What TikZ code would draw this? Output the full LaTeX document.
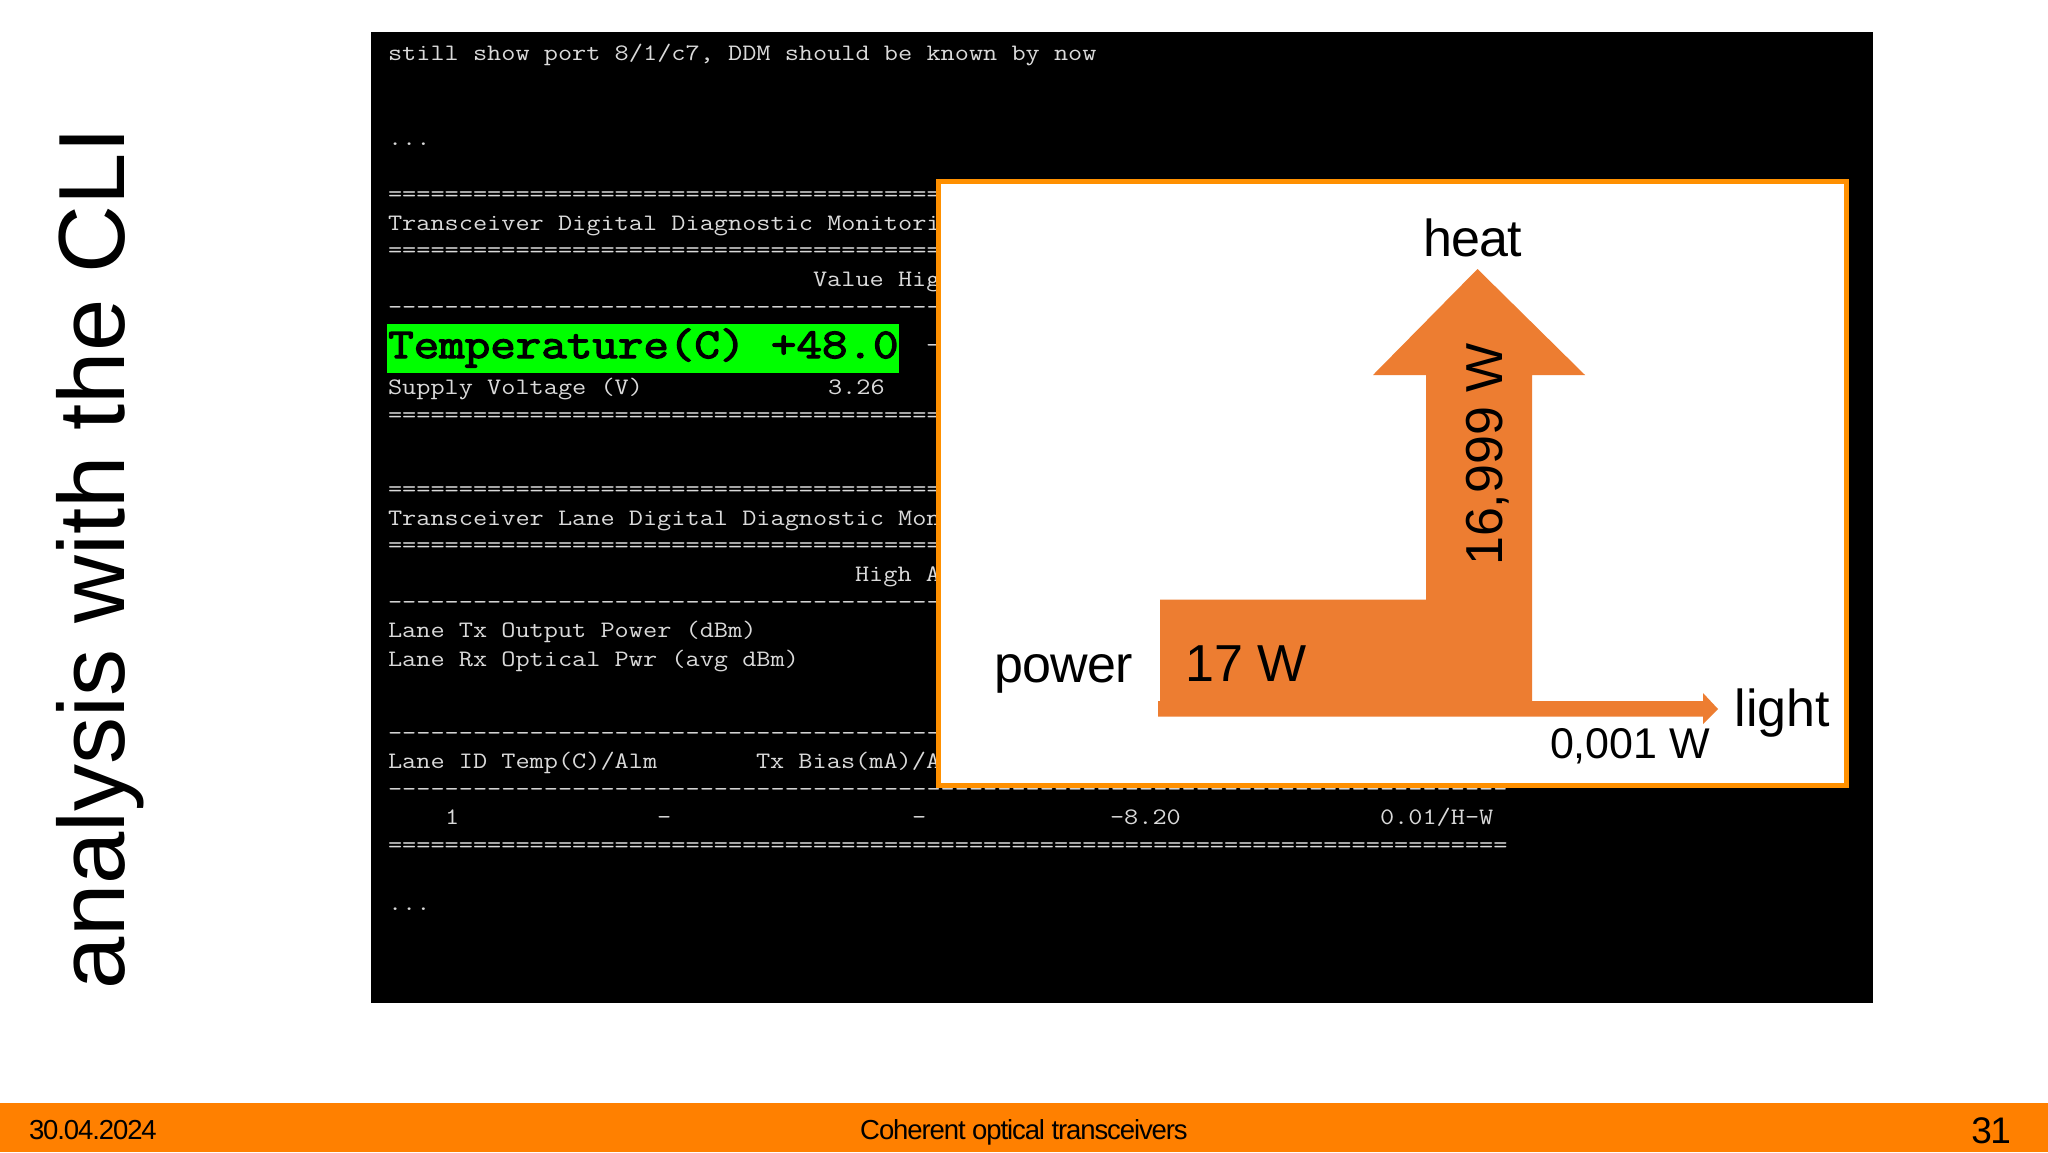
\documentclass[tikz,border=0pt]{standalone}
\usepackage{fontspec}
\setmainfont{Liberation Sans}
\newfontfamily\termfont{Latin Modern Mono}[FakeStretch=1.166]
\newfontfamily\termbold{Latin Modern Mono}[FakeStretch=1.166,FakeBold=3]
\newfontfamily\footfont{Liberation Sans}[LetterSpace=-4]
\newfontfamily\tightfont{Liberation Sans}[LetterSpace=-1.5]
\definecolor{barorange}{HTML}{FF8000}
\definecolor{boxorange}{HTML}{FF9000}
\definecolor{flow}{HTML}{ED7D31}
\definecolor{termtext}{HTML}{DADADA}
\definecolor{hi}{HTML}{00FF00}
\newcommand{\fsz}[1]{\fontsize{#1}{#1}\selectfont}
\newcommand{\eqshort}{=======================================}
\newcommand{\dashshort}{---------------------------------------}
\newcommand{\eqlong}{===============================================================================}
\newcommand{\dashlong}{-------------------------------------------------------------------------------}
\tikzset{
  term/.style={inner sep=0pt,outer sep=0pt,anchor=base west,text=termtext,font=\termfont\fsz{23.6}},
  lab/.style={inner sep=0pt,outer sep=0pt,anchor=base west,text=black,font=\fsz{52}},
  tightlab/.style={lab,font=\tightfont\fsz{52}},
  foot/.style={inner sep=0pt,outer sep=0pt,anchor=base west,text=black,font=\footfont\fsz{27.5}}
}
\begin{document}
\begin{tikzpicture}[x=1pt,y=1pt]
\useasboundingbox (0,0) rectangle (2048,-1152);
\fill[white] (0,0) rectangle (2048,-1152);
% title
\node[inner sep=0pt,anchor=base,rotate=90,text=black,font=\fsz{94}] (title) at (124.5,-558) {analysis with the CLI};
% terminal
\fill[black] (371,-32) rectangle (1873,-1003);
\fill[hi] (387,-324) rectangle (899,-373);
\node[term] (t1) at (388,-60) {still show port 8/1/c7, DDM should be known by now};
\node[term] (t2) at (388,-145) {...};
\node[term] (t3) at (388,-201) {\eqshort};
\node[term] (t4) at (388,-230) {Transceiver Digital Diagnostic Monitori};
\node[term] (t5) at (388,-257) {\eqshort};
\node[term] (t6) at (813,-286) {Value Hig};
\node[term] (t7) at (388,-314) {\dashshort};
\node[inner sep=0pt,anchor=base west,text=black,font=\termbold\fsz{42.5}] (t8) at (388,-358) {Temperature(C) +48.0};
\node[term] (t8b) at (926,-352) {-};
\node[term] (t9) at (388,-394) {Supply Voltage (V)};
\node[term] (t10) at (828,-394) {3.26};
\node[term] (t11) at (388,-422) {\eqshort};
\node[term] (t12) at (388,-496) {\eqshort};
\node[term] (t13) at (388,-525) {Transceiver Lane Digital Diagnostic Mon};
\node[term] (t14) at (388,-552) {\eqshort};
\node[term] (t15) at (855,-581) {High A};
\node[term] (t16) at (388,-609) {\dashshort};
\node[term] (t17) at (388,-637) {Lane Tx Output Power (dBm)};
\node[term] (t18) at (388,-666) {Lane Rx Optical Pwr (avg dBm)};
\node[term] (t19) at (388,-740) {\dashshort};
\node[term] (t20) at (388,-768) {Lane ID Temp(C)/Alm};
\node[term] (t21) at (756,-768) {Tx Bias(mA)/A};
\node[term] (t22) at (388,-796) {\dashlong};
\node[term] (t23) at (445,-824) {1};
\node[term] (t24) at (657,-824) {-};
\node[term] (t25) at (912,-824) {-};
\node[term] (t26) at (1110,-824) {-8.20};
\node[term] (t27) at (1380,-824) {0.01/H-W};
\node[term] (t28) at (388,-852) {\eqlong};
\node[term] (t29) at (388,-910) {...};
% inset
\draw[boxorange,line width=5pt,fill=white] (938.5,-181) rectangle (1846.5,-785);
\fill[flow] (1160,-599.5) -- (1426,-599.5) -- (1426,-375) -- (1373,-375) -- (1477.5,-269) -- (1585,-375) -- (1532,-375) -- (1532,-701) -- (1703,-701) -- (1703,-693) -- (1718,-709) -- (1703,-724) -- (1703,-716.5) -- (1158,-716.5) -- (1158,-701) -- (1160,-701) -- cycle;
\node[tightlab,anchor=base] (heat) at (1473,-256) {heat};
\node[lab] (pw) at (1185.5,-681) {17 W};
\node[lab,anchor=base,rotate=90] (hw) at (1502.5,-454.6) {16,999 W};
\node[tightlab] (power) at (994,-682) {power};
\node[lab] (light) at (1734.6,-726) {light};
\node[lab,font=\fsz{43}] (lw) at (1550,-758) {0,001 W};
% footer
\fill[barorange] (0,-1103) rectangle (2048,-1152);
\node[foot] (date) at (29,-1139) {30.04.2024};
\node[foot,anchor=base] (ftitle) at (1024,-1139) {Coherent optical transceivers};
\node[foot,anchor=base east,font=\footfont\fsz{37}] (page) at (2011,-1143) {31};
\end{tikzpicture}
\end{document}
